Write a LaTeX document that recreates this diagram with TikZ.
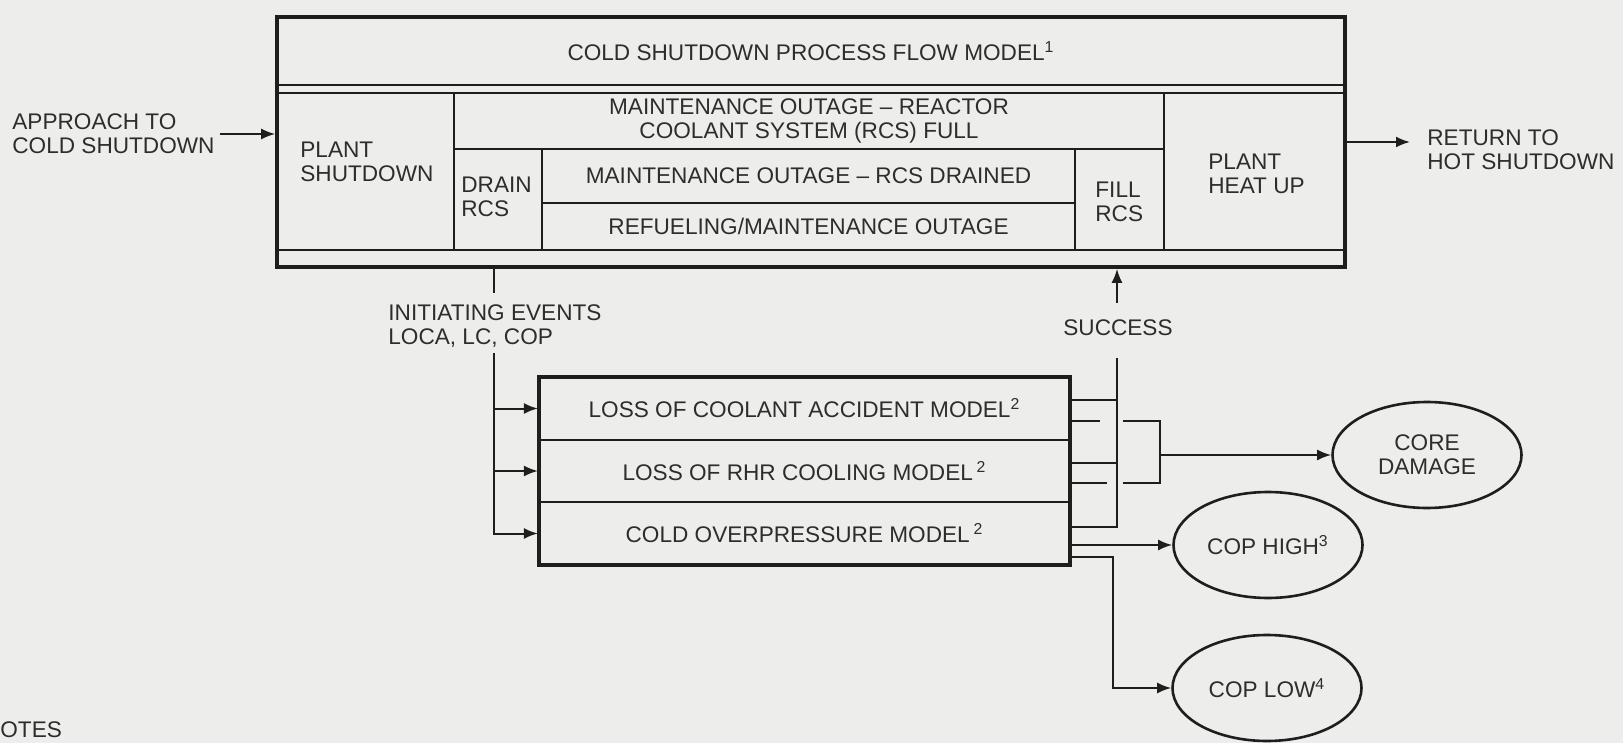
\documentclass[tikz,border=0pt]{standalone}
\usepackage{fontspec}
\setmainfont{Liberation Sans}
\usetikzlibrary{arrows.meta, positioning, shapes.geometric, fit}
\definecolor{paper}{RGB}{237,237,235}
\definecolor{inkline}{RGB}{30,30,30}
\definecolor{inktext}{RGB}{45,45,45}
\newcommand{\diagfont}{\fontsize{11.3}{12}\selectfont}

\begin{document}
\begin{tikzpicture}[
  x=0.5pt, y=-0.5pt,
  frame/.style={draw=inkline, line width=1.8pt, inner sep=0pt},
  cell/.style={draw=inkline, line width=1.1pt, inner sep=0pt},
  lbl/.style={inner sep=0pt, font=\diagfont, text=inktext, align=left},
  ctr/.style={lbl, align=center},
  endstate/.style={draw=inkline, ellipse, line width=1.3pt, inner sep=0pt,
                   minimum width=94.5pt, minimum height=53pt,
                   font=\diagfont, text=inktext, align=center},
  wire/.style={draw=inkline, line width=1pt},
  arrow/.style={wire, -{Latex[length=7pt, width=5.5pt]}},
]
  \fill[paper] (0,0) rectangle (1623,743);
  \useasboundingbox (0,0) rectangle (1623,743);

  \node[cell, fit={(277,17) (1345,85)}] (title) {};
  \node[ctr] (titlelbl) at (title.center) {COLD SHUTDOWN PROCESS FLOW MODEL\textsuperscript{1}};
  \node[cell, fit={(277,93) (454,250)}] (pshut) {};
  \node[lbl, anchor=west] (pshutlbl) at (300,162) {PLANT\\SHUTDOWN};
  \node[cell, fit={(454,93) (1164,149)}] (rcsfull) {};
  \node[ctr] (rcsfulllbl) at (rcsfull.center) {MAINTENANCE OUTAGE -- REACTOR\\COOLANT SYSTEM (RCS) FULL};
  \node[cell, fit={(454,149) (542,250)}] (drain) {};
  \node[lbl, anchor=west] (drainlbl) at (461,197) {DRAIN\\RCS};
  \node[cell, fit={(542,149) (1075,203)}] (drained) {};
  \node[ctr] (drainedlbl) at (drained.center) {MAINTENANCE OUTAGE -- RCS DRAINED};
  \node[cell, fit={(542,203) (1075,250)}] (refuel) {};
  \node[ctr] (refuellbl) at (refuel.center) {REFUELING/MAINTENANCE OUTAGE};
  \node[cell, fit={(1075,149) (1164,250)}] (fill) {};
  \node[lbl, anchor=west] (filllbl) at (1095,202) {FILL\\RCS};
  \node[cell, fit={(1164,93) (1345,250)}] (heatup) {};
  \node[lbl, anchor=west] (heatuplbl) at (1208,174) {PLANT\\HEAT UP};
  \node[frame, fit={(277,17) (1345,267)}] (upper) {};

  \node[lbl, anchor=west] (approach) at (12,134) {APPROACH TO\\COLD SHUTDOWN};
  \coordinate (apstart) at ([xshift=2.5pt]approach.east);
  \draw[arrow] (apstart) -- (apstart -| upper.west);
  \node[lbl, anchor=west] (retlbl) at (1427,150) {RETURN TO\\HOT SHUTDOWN};
  \coordinate (retend) at ([xshift=-8.5pt]retlbl.west);
  \draw[arrow] (upper.east) -- (upper.east -| retend);

  \node[cell, fit={(539,377) (1070,440)}] (loca) {};
  \node[ctr] (localbl) at (loca.center) {LOSS OF COOLANT ACCIDENT MODEL\textsuperscript{2}};
  \node[cell, fit={(539,440) (1070,502)}] (lc) {};
  \node[ctr] (lclbl) at (lc.center) {LOSS OF RHR COOLING MODEL\,\textsuperscript{2}};
  \node[cell, fit={(539,502) (1070,565)}] (cop) {};
  \node[ctr] (coplbl) at (cop.center) {COLD OVERPRESSURE MODEL\,\textsuperscript{2}};
  \node[frame, fit={(539,377) (1070,565)}] (lower) {};

  \node[lbl, anchor=west] (inilbl) at (388,326) {INITIATING EVENTS\\LOCA, LC, COP};
  \coordinate (ietop) at (494,293);
  \coordinate (iebot) at (494,353);
  \draw[wire] (upper.south -| ietop) -- (ietop);
  \draw[arrow] (iebot) |- (cop.west);
  \draw[arrow] (iebot |- loca.west) -- (loca.west);
  \draw[arrow] (iebot |- lc.west) -- (lc.west);

  \node[ctr] (succlbl) at (1118,328) {SUCCESS};
  \coordinate (succtail) at (1117,303);
  \coordinate (sv) at (1117,358);
  \draw[arrow] (succtail) -- (upper.south -| succtail);
  \draw[wire] (lower.east |- 0,400) -- (sv |- 0,400);
  \draw[wire] (lower.east |- 0,463) -- (sv |- 0,463);
  \draw[wire] (lower.east |- 0,527) -| (sv);

  \node[endstate] (core) at (1427,455) {CORE\\DAMAGE};
  \node[endstate] (high) at (1268,545) {COP HIGH\textsuperscript{3}};
  \node[endstate] (low) at (1267,688) {COP LOW\textsuperscript{4}};

  \coordinate (bk) at (1160,455);
  \draw[wire] (lower.east |- 0,421) -- (1100,421);
  \draw[wire] (1123,421) -| (bk) |- (1123,483);
  \draw[wire] (lower.east |- 0,483) -- (1107,483);
  \draw[arrow] (bk) -- (core.west);
  \draw[arrow] (lower.east |- high.west) -- (high.west);
  \draw[arrow] (lower.east |- 0,557) -| (1113,0 |- low.west) -- (low.west);

  \node[lbl, anchor=west] (notes) at (0,730) {OTES};
\end{tikzpicture}
\end{document}
